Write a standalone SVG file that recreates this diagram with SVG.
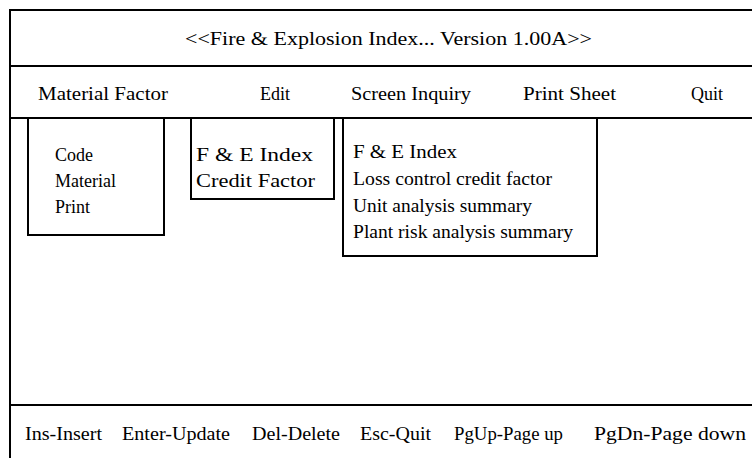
<svg xmlns="http://www.w3.org/2000/svg" width="752" height="462" viewBox="0 0 752 462">
<style>
.ln{stroke:#000;stroke-width:2;fill:none}
.bx{stroke:#000;stroke-width:2;fill:#fff}
text{font-family:"Liberation Serif","Times New Roman",serif;font-size:18px;fill:#000}
</style>
<rect width="752" height="462" fill="#fff"/>
<g id="frame">
<path class="ln" d="M10,458 V10 H752 M10,66 H752 M10,118 H752 M10,405 H752"/>
</g>
<g id="title"><text x="185" y="45" textLength="407" lengthAdjust="spacingAndGlyphs">&lt;&lt;Fire &amp; Explosion Index... Version 1.00A&gt;&gt;</text></g>
<g id="menu">
<text x="38" y="100" textLength="130" lengthAdjust="spacingAndGlyphs">Material Factor</text>
<text x="260" y="100">Edit</text>
<text x="351" y="100" textLength="120" lengthAdjust="spacingAndGlyphs">Screen Inquiry</text>
<text x="523" y="100" textLength="93" lengthAdjust="spacingAndGlyphs">Print Sheet</text>
<text x="691" y="100">Quit</text>
</g>
<g id="connectors"></g>
<g id="box-material">
<path class="bx" d="M28,119 V235 H164 V119"/>
<text x="55" y="161">Code</text>
<text x="55" y="187">Material</text>
<text x="55" y="213">Print</text>
</g>
<g id="box-edit">
<path class="bx" d="M191,119 V199 H334 V119"/>
<text x="196" y="161" textLength="117" lengthAdjust="spacingAndGlyphs">F &amp; E Index</text>
<text x="196" y="187" textLength="119" lengthAdjust="spacingAndGlyphs">Credit Factor</text>
</g>
<g id="box-screen">
<path class="bx" d="M343,119 V256 H597 V119"/>
<text x="353" y="158" textLength="104" lengthAdjust="spacingAndGlyphs">F &amp; E Index</text>
<text x="353" y="185" textLength="199" lengthAdjust="spacingAndGlyphs">Loss control credit factor</text>
<text x="353" y="212" textLength="179" lengthAdjust="spacingAndGlyphs">Unit analysis summary</text>
<text x="353" y="238" textLength="220" lengthAdjust="spacingAndGlyphs">Plant risk analysis summary</text>
</g>
<g id="status">
<text x="25" y="440" textLength="77" lengthAdjust="spacingAndGlyphs">Ins-Insert</text>
<text x="122" y="440" textLength="108" lengthAdjust="spacingAndGlyphs">Enter-Update</text>
<text x="252" y="440" textLength="88" lengthAdjust="spacingAndGlyphs">Del-Delete</text>
<text x="360" y="440" textLength="71" lengthAdjust="spacingAndGlyphs">Esc-Quit</text>
<text x="454" y="440" textLength="109" lengthAdjust="spacingAndGlyphs">PgUp-Page up</text>
<text x="594" y="440" textLength="152" lengthAdjust="spacingAndGlyphs">PgDn-Page down</text>
</g>
</svg>
